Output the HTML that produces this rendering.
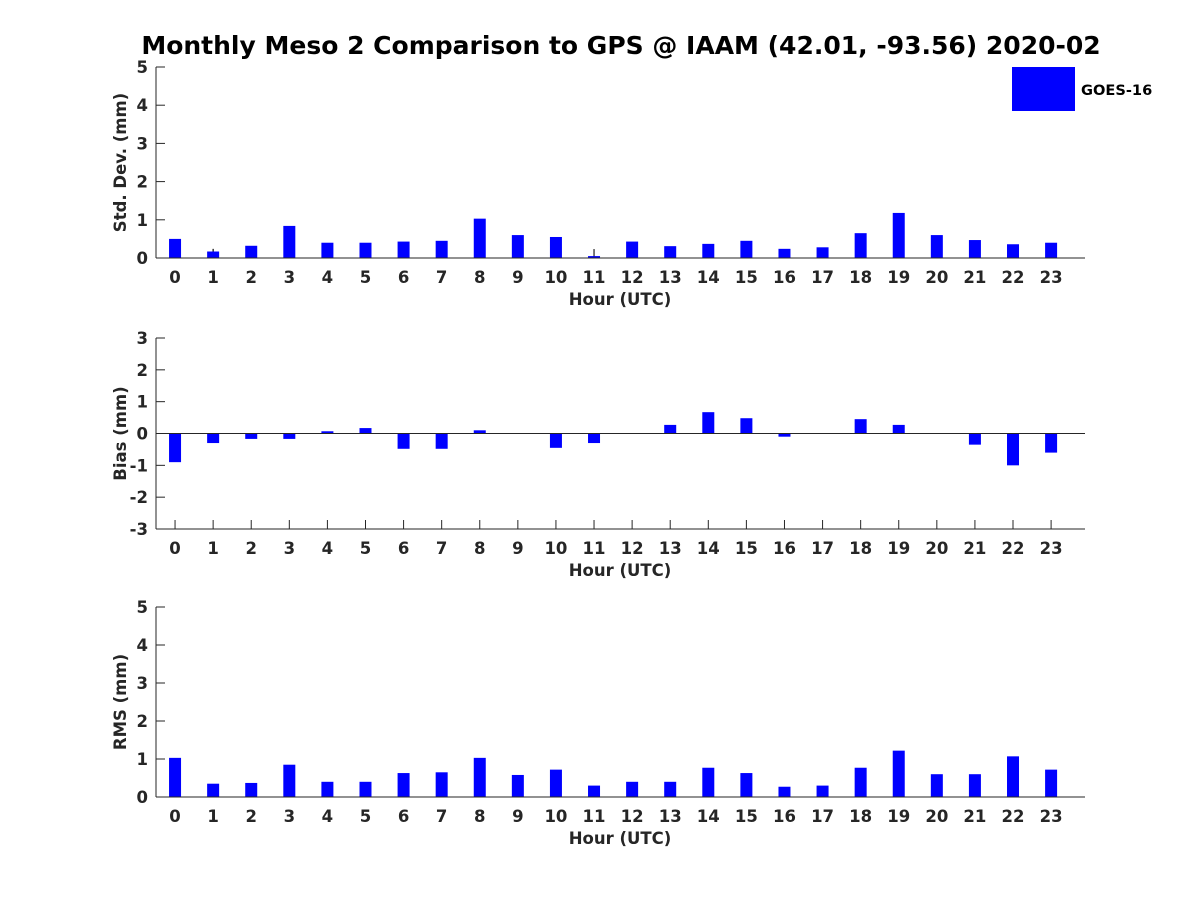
<!DOCTYPE html>
<html><head><meta charset="utf-8"><style>
body{margin:0;background:#fff;}
svg text{font-family:"DejaVu Sans","Liberation Sans",sans-serif;font-weight:bold;fill:#262626;}
</style></head><body>
<svg id="chart" width="1200" height="900" xmlns="http://www.w3.org/2000/svg">
<text x="621" y="54" font-size="25" text-anchor="middle" style="fill:#000">Monthly Meso 2 Comparison to GPS @ IAAM (42.01, -93.56) 2020-02</text>
<rect x="1012" y="67" width="63" height="44" fill="#0000ff"/>
<text x="1081" y="95" font-size="14.6" style="fill:#000">GOES-16</text>
</svg>
<script>
const hours = [0,1,2,3,4,5,6,7,8,9,10,11,12,13,14,15,16,17,18,19,20,21,22,23];
const stdValues = [0.5,0.17,0.32,0.84,0.4,0.4,0.43,0.45,1.03,0.6,0.55,0.05,0.43,0.31,0.37,0.45,0.24,0.28,0.65,1.18,0.6,0.47,0.36,0.4];
const stdErrTop = [null,0.24,null,null,null,null,null,null,null,null,null,0.23,null,null,null,null,null,null,null,null,null,null,null,null];
const biasValues = [-0.9,-0.3,-0.17,-0.17,0.07,0.17,-0.48,-0.48,0.1,0,-0.45,-0.3,0,0.27,0.67,0.48,-0.1,0,0.45,0.27,0,-0.35,-1.0,-0.6];
const rmsValues = [1.03,0.35,0.37,0.85,0.4,0.4,0.63,0.65,1.03,0.58,0.72,0.3,0.4,0.4,0.77,0.63,0.27,0.3,0.77,1.22,0.6,0.6,1.07,0.72];
const stdTicks = [0,1,2,3,4,5];
const biasTicks = [-3,-2,-1,0,1,2,3];
const rmsTicks = [0,1,2,3,4,5];

const svg = document.getElementById('chart');
const NS = 'http://www.w3.org/2000/svg';
function mk(tag, attrs){const e=document.createElementNS(NS,tag);for(const k in attrs)e.setAttribute(k,attrs[k]);svg.appendChild(e);return e;}
const X0=156, X1=1085, XMIN=-0.5, XMAX=23.89;
const FS=16.5;
function xs(v){return X0+(v-XMIN)/(XMAX-XMIN)*(X1-X0);}

function panel(key, top, bottom, ymin, ymax, ticks, vals, ylabel, errTop){
  const ys=v=>bottom-(v-ymin)/(ymax-ymin)*(bottom-top);
  const base = ymin<0?0:ymin;
  hours.forEach(h=>{
    mk('line',{x1:xs(h),x2:xs(h),y1:bottom,y2:bottom-9,stroke:'#262626'});
    const tx=mk('text',{x:xs(h),y:bottom+25,'font-size':FS,'text-anchor':'middle'});
    tx.textContent=h;
    
    
  });
  vals.forEach((v,i)=>{
    const y1=ys(Math.max(v,base)), y2=ys(Math.min(v,base));
    const r=mk('rect',{x:xs(hours[i])-6,y:y1,width:12,height:Math.max(y2-y1,0),fill:'#0000ff'});
    
    
  });
  if(errTop){errTop.forEach((t,i)=>{ if(t==null) return;
    const l=mk('line',{x1:xs(hours[i]),x2:xs(hours[i]),y1:ys(t),y2:ys(vals[i]),stroke:'#000','stroke-width':1});
    
    
  });}
  const ya=mk('line',{x1:X0,x2:X0,y1:top,y2:bottom,stroke:'#262626','stroke-width':1});
  
  
  const xa=mk('line',{x1:X0,x2:X1,y1:ys(base),y2:ys(base),stroke:'#262626','stroke-width':1});
  
  
  ticks.forEach(t=>{
    mk('line',{x1:X0,x2:X0+9,y1:ys(t),y2:ys(t),stroke:'#262626'});
    const tx=mk('text',{x:X0-8,y:ys(t)+6,'font-size':FS,'text-anchor':'end'});
    tx.textContent=t;
    
    
  });
  const xl=mk('text',{x:620,y:bottom+47,'font-size':FS,'text-anchor':'middle'});
  xl.textContent='Hour (UTC)';
  
  
  const cy=(top+bottom)/2;
  const yl=mk('text',{x:0,y:0,'font-size':FS,'text-anchor':'middle',transform:`translate(126,${cy}) rotate(-90)`});
  yl.textContent=ylabel;
  
  
}
panel('std',67,258,0,5,stdTicks,stdValues,'Std. Dev. (mm)',stdErrTop);
panel('bias',338,529,-3,3,biasTicks,biasValues,'Bias (mm)',null);
mk('line',{x1:X0,x2:X1,y1:529,y2:529,stroke:'#262626'});
panel('rms',607,797,0,5,rmsTicks,rmsValues,'RMS (mm)',null);
</script>
</body></html>
